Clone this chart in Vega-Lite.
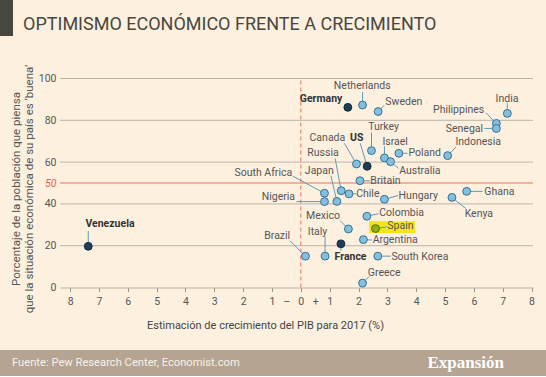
{
  "$schema": "https://vega.github.io/schema/vega-lite/v6.json",
  "background": "#fdf0df",
  "padding": 0,
  "spacing": 19.5,
  "config": {
    "font": "Roboto, sans-serif",
    "view": {"stroke": null}
  },
  "datasets": {
    "countries": [
      {"country": "Netherlands", "growth": 2.14, "optimism": 87.3, "group": "normal", "lx": 2.13, "ly": 96.2, "side": "center", "ex": 2.14, "ey": 93.5},
      {"country": "Germany", "growth": 1.63, "optimism": 86.2, "group": "dark", "lx": 1.44, "ly": 90.2, "side": "right", "ex": null, "ey": null},
      {"country": "Sweden", "growth": 2.68, "optimism": 84.2, "group": "normal", "lx": 2.93, "ly": 88.9, "side": "left", "ex": 2.9, "ey": 87.3},
      {"country": "India", "growth": 7.16, "optimism": 83.3, "group": "normal", "lx": 7.15, "ly": 90.4, "side": "center", "ex": 7.16, "ey": 88.2},
      {"country": "Philippines", "growth": 6.78, "optimism": 78.5, "group": "normal", "lx": 6.36, "ly": 85.0, "side": "right", "ex": 6.42, "ey": 83.6},
      {"country": "Senegal", "growth": 6.78, "optimism": 76.1, "group": "normal", "lx": 6.32, "ly": 75.6, "side": "right", "ex": 6.36, "ey": 76.1},
      {"country": "Turkey", "growth": 2.45, "optimism": 65.5, "group": "normal", "lx": 2.87, "ly": 76.6, "side": "center", "ex": 2.45, "ey": 74.2},
      {"country": "Israel", "growth": 2.9, "optimism": 62.0, "group": "normal", "lx": 3.27, "ly": 69.8, "side": "center", "ex": 2.9, "ey": 67.6},
      {"country": "Australia", "growth": 3.11, "optimism": 60.2, "group": "normal", "lx": 3.41, "ly": 55.8, "side": "left", "ex": 3.39, "ey": 57.0},
      {"country": "Poland", "growth": 3.4, "optimism": 64.2, "group": "normal", "lx": 3.73, "ly": 64.2, "side": "left", "ex": 3.7, "ey": 64.2},
      {"country": "Indonesia", "growth": 5.09, "optimism": 63.1, "group": "normal", "lx": 6.15, "ly": 69.4, "side": "center", "ex": 5.38, "ey": 67.2},
      {"country": "Canada", "growth": 1.93, "optimism": 59.1, "group": "normal", "lx": 1.54, "ly": 71.5, "side": "right", "ex": 1.51, "ey": 69.0},
      {"country": "US", "growth": 2.3, "optimism": 58.0, "group": "dark", "lx": 1.94, "ly": 71.5, "side": "center", "ex": 2.06, "ey": 69.0},
      {"country": "Russia", "growth": 1.4, "optimism": 46.3, "group": "normal", "lx": 0.77, "ly": 64.2, "side": "center", "ex": 1.19, "ey": 61.8},
      {"country": "Japan", "growth": 1.25, "optimism": 41.2, "group": "normal", "lx": 0.64, "ly": 55.9, "side": "center", "ex": 1.04, "ey": 53.5},
      {"country": "South Africa", "growth": 0.82, "optimism": 45.1, "group": "normal", "lx": -0.3, "ly": 54.8, "side": "right", "ex": -0.28, "ey": 53.3},
      {"country": "Nigeria", "growth": 0.82, "optimism": 41.1, "group": "normal", "lx": -0.2, "ly": 43.1, "side": "right", "ex": -0.15, "ey": 41.1},
      {"country": "Chile", "growth": 1.67, "optimism": 44.8, "group": "normal", "lx": 1.92, "ly": 44.8, "side": "left", "ex": 1.92, "ey": 44.8},
      {"country": "Britain", "growth": 2.05, "optimism": 51.1, "group": "normal", "lx": 2.41, "ly": 51.0, "side": "left", "ex": 2.4, "ey": 51.0},
      {"country": "Hungary", "growth": 2.9, "optimism": 42.2, "group": "normal", "lx": 3.39, "ly": 44.0, "side": "left", "ex": 3.37, "ey": 44.0},
      {"country": "Ghana", "growth": 5.75, "optimism": 46.0, "group": "normal", "lx": 6.36, "ly": 45.9, "side": "left", "ex": 6.3, "ey": 46.0},
      {"country": "Kenya", "growth": 5.24, "optimism": 43.1, "group": "normal", "lx": 5.68, "ly": 35.0, "side": "left", "ex": 5.72, "ey": 37.8},
      {"country": "Colombia", "growth": 2.29, "optimism": 34.1, "group": "normal", "lx": 2.72, "ly": 35.7, "side": "left", "ex": 2.7, "ey": 35.3},
      {"country": "Mexico", "growth": 1.65, "optimism": 28.0, "group": "normal", "lx": 1.36, "ly": 34.1, "side": "right", "ex": 1.36, "ey": 32.0},
      {"country": "Spain", "growth": 2.59, "optimism": 28.2, "group": "spain", "lx": 3.0, "ly": 29.6, "side": "left", "ex": 2.98, "ey": 29.0},
      {"country": "Argentina", "growth": 2.17, "optimism": 22.9, "group": "normal", "lx": 2.49, "ly": 22.5, "side": "left", "ex": 2.47, "ey": 22.7},
      {"country": "France", "growth": 1.39, "optimism": 20.9, "group": "dark", "lx": 1.17, "ly": 14.5, "side": "left", "ex": 1.39, "ey": 17.6},
      {"country": "Italy", "growth": 0.84, "optimism": 15.0, "group": "normal", "lx": 0.58, "ly": 26.4, "side": "center", "ex": 0.84, "ey": 24.4},
      {"country": "South Korea", "growth": 2.67, "optimism": 15.0, "group": "normal", "lx": 3.14, "ly": 14.8, "side": "left", "ex": 3.12, "ey": 15.0},
      {"country": "Brazil", "growth": 0.16, "optimism": 15.0, "group": "normal", "lx": -0.37, "ly": 24.5, "side": "right", "ex": -0.38, "ey": 22.4},
      {"country": "Greece", "growth": 2.14, "optimism": 2.1, "group": "normal", "lx": 2.89, "ly": 7.0, "side": "center", "ex": 2.37, "ey": 5.3},
      {"country": "Venezuela", "growth": -7.37, "optimism": 19.7, "group": "dark", "lx": -7.47, "ly": 30.4, "side": "left", "ex": -7.37, "ey": 27.0}
    ],
    "highlight": [{"x1": 2.37, "x2": 3.96, "y1": 26.1, "y2": 31.7}],
    "gridlines": [{"g": 20}, {"g": 40}, {"g": 60}, {"g": 80}, {"g": 100}]
  },
  "vconcat": [
    {
      "width": 13,
      "height": 36,
      "view": {"fill": "#48473f"},
      "data": {"values": [{"t": "OPTIMISMO ECONÓMICO FRENTE A CRECIMIENTO"}]},
      "mark": {"type": "text", "align": "left", "baseline": "middle", "dx": 16.5, "dy": 7, "fontSize": 18, "color": "#48473f"},
      "encoding": {"text": {"field": "t"}}
    },
    {
      "width": 533,
      "height": 209,
      "data": {"name": "countries"},
      "layer": [
        {
          "data": {"name": "gridlines"},
          "mark": {"type": "rule", "color": "#bcb5aa", "strokeWidth": 1},
          "encoding": {
            "y": {
              "field": "g", "type": "quantitative",
              "scale": {"domain": [0, 100], "nice": false, "zero": false},
              "axis": {
                "values": [0, 20, 40, 50, 60, 80, 100],
                "tickCount": 100,
                "offset": -60,
                "grid": false,
                "domain": false,
                "ticks": true,
                "tickSize": 30,
                "tickColor": "transparent",
                "tickWidth": {"condition": {"test": "datum.value == 100", "value": 44.4}, "value": 1},
                "labelPadding": -26,
                "labelOverlap": false,
                "labelFontSize": 10.5,
                "labelColor": {"condition": {"test": "datum.value == 50", "value": "#e0604f"}, "value": "#555555"},
                "labelFontStyle": {"condition": {"test": "datum.value == 50", "value": "italic"}, "value": "normal"},
                "title": ["Porcentaje de la población que piensa", "que la situación económica de su país es ‘buena’"],
                "titleFontSize": 11.5,
                "titleFontWeight": "normal",
                "titleColor": "#555555",
                "titleX": -43.5,
                "titleY": 110,
                "titleBaseline": "middle",
                "titleAlign": "center",
                "titleLineHeight": 12.5
              }
            },
            "x": {"datum": -8.35, "type": "quantitative"},
            "x2": {"datum": 8.05}
          }
        },
        {
          "data": {"values": [{}]},
          "mark": {"type": "rule", "color": "#e8705f", "strokeWidth": 1},
          "encoding": {"y": {"datum": 50}, "x": {"datum": -8.35}, "x2": {"datum": 8.05}}
        },
        {
          "data": {"values": [{}]},
          "mark": {"type": "rule", "color": "#e8705f", "strokeWidth": 1, "strokeDash": [4, 3]},
          "encoding": {"x": {"datum": 0}, "y": {"datum": 0}, "y2": {"datum": 100}}
        },
        {
          "data": {"name": "highlight"},
          "mark": {"type": "rect", "color": "#f4e31c"},
          "encoding": {
            "x": {"field": "x1", "type": "quantitative"},
            "x2": {"field": "x2"},
            "y": {"field": "y1", "type": "quantitative"},
            "y2": {"field": "y2"}
          }
        },
        {
          "transform": [{"filter": "datum.ex != null"}],
          "mark": {"type": "rule", "color": "#5e9bb8", "strokeWidth": 1},
          "encoding": {
            "x": {"field": "growth", "type": "quantitative"},
            "y": {"field": "optimism", "type": "quantitative"},
            "x2": {"field": "ex"},
            "y2": {"field": "ey"}
          }
        },
        {
          "mark": {"type": "circle", "size": 62, "strokeWidth": 1, "opacity": 1},
          "encoding": {
            "x": {
              "field": "growth", "type": "quantitative",
              "scale": {"domain": [-8.35, 8.05], "range": [60, 533], "nice": false, "zero": false},
              "axis": {
                "values": [-8, -7, -6, -5, -4, -3, -2, -1, -0.5, 0, 0.5, 1, 2, 3, 4, 5, 6, 7, 8],
                "tickCount": 100,
                "labelExpr": "datum.value == -0.5 ? '–' : datum.value == 0.5 ? '+' : format(abs(datum.value), 'd')",
                "grid": false,
                "domainColor": "#b7b0a6",
                "tickColor": "#9a958e",
                "tickSize": 4,
                "tickOpacity": {"condition": {"test": "datum.value % 1 != 0", "value": 0}, "value": 1},
                "labelFontSize": 10.5,
                "labelColor": "#555555",
                "labelPadding": 5,
                "labelOverlap": false,
                "labelFlush": false,
                "labelBound": false,
                "title": "Estimación de crecimiento del PIB para 2017 (%)",
                "titleFontSize": 11,
                "titleFontWeight": "normal",
                "titleColor": "#444444",
                "titleX": 265,
                "titleY": 38,
                "titleBaseline": "middle",
                "titleAlign": "center"
              }
            },
            "y": {"field": "optimism", "type": "quantitative"},
            "fill": {"field": "group", "type": "nominal", "scale": {"domain": ["normal", "dark", "spain"], "range": ["#86bedb", "#1d3e56", "#8fae28"]}, "legend": null},
            "stroke": {"field": "group", "type": "nominal", "scale": {"domain": ["normal", "dark", "spain"], "range": ["#2f7398", "#13293a", "#4f6c12"]}, "legend": null}
          }
        },
        {
          "transform": [{"filter": "datum.side == 'left' && datum.group != 'dark'"}],
          "mark": {"type": "text", "align": "left", "baseline": "middle", "fontSize": 10.5, "color": "#555555"},
          "encoding": {"x": {"field": "lx", "type": "quantitative"}, "y": {"field": "ly", "type": "quantitative"}, "text": {"field": "country"}}
        },
        {
          "transform": [{"filter": "datum.side == 'right' && datum.group != 'dark'"}],
          "mark": {"type": "text", "align": "right", "baseline": "middle", "fontSize": 10.5, "color": "#555555"},
          "encoding": {"x": {"field": "lx", "type": "quantitative"}, "y": {"field": "ly", "type": "quantitative"}, "text": {"field": "country"}}
        },
        {
          "transform": [{"filter": "datum.side == 'center' && datum.group != 'dark'"}],
          "mark": {"type": "text", "align": "center", "baseline": "middle", "fontSize": 10.5, "color": "#555555"},
          "encoding": {"x": {"field": "lx", "type": "quantitative"}, "y": {"field": "ly", "type": "quantitative"}, "text": {"field": "country"}}
        },
        {
          "transform": [{"filter": "datum.side == 'left' && datum.group == 'dark'"}],
          "mark": {"type": "text", "align": "left", "baseline": "middle", "fontSize": 10.5, "fontWeight": "bold", "color": "#333333"},
          "encoding": {"x": {"field": "lx", "type": "quantitative"}, "y": {"field": "ly", "type": "quantitative"}, "text": {"field": "country"}}
        },
        {
          "transform": [{"filter": "datum.side == 'right' && datum.group == 'dark'"}],
          "mark": {"type": "text", "align": "right", "baseline": "middle", "fontSize": 10.5, "fontWeight": "bold", "color": "#333333"},
          "encoding": {"x": {"field": "lx", "type": "quantitative"}, "y": {"field": "ly", "type": "quantitative"}, "text": {"field": "country"}}
        },
        {
          "transform": [{"filter": "datum.side == 'center' && datum.group == 'dark'"}],
          "mark": {"type": "text", "align": "center", "baseline": "middle", "fontSize": 10.5, "fontWeight": "bold", "color": "#333333"},
          "encoding": {"x": {"field": "lx", "type": "quantitative"}, "y": {"field": "ly", "type": "quantitative"}, "text": {"field": "country"}}
        }
      ]
    },
    {
      "width": 546,
      "height": 26,
      "view": {"fill": "#b4a491"},
      "layer": [
        {
          "data": {"values": [{"side": "l", "t": "Fuente: Pew Research Center, Economist.com"}]},
          "mark": {"type": "text", "align": "left", "baseline": "middle", "dx": 12, "fontSize": 11.2, "color": "#f8f1e7"},
          "encoding": {
            "x": {"field": "side", "type": "nominal", "scale": {"type": "point", "domain": ["l", "r"], "padding": 0}, "axis": null},
            "text": {"field": "t"}
          }
        },
        {
          "data": {"values": [{"side": "r", "t": "Expansión"}]},
          "mark": {"type": "text", "align": "right", "baseline": "middle", "dx": -42, "fontSize": 17, "font": "Liberation Serif", "fontWeight": "bold", "color": "#ffffff"},
          "encoding": {
            "x": {"field": "side", "type": "nominal", "axis": null},
            "text": {"field": "t"}
          }
        }
      ]
    }
  ]
}
